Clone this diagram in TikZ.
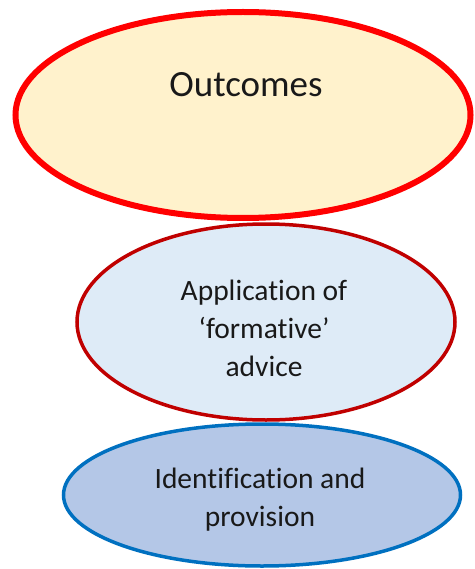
\documentclass[tikz,border=0pt]{standalone}
\usepackage{fontspec}
\setmainfont[Ligatures={NoCommon}]{Carlito}
\usepackage{tikz}
\usetikzlibrary{shapes.geometric, positioning, calc}
\usepackage{xcolor}
\definecolor{outred}{HTML}{FF0000}
\definecolor{outfill}{HTML}{FFF2CC}
\definecolor{darkred}{HTML}{C00000}
\definecolor{paleblue}{HTML}{DEEBF7}
\definecolor{midblue}{HTML}{0070C0}
\definecolor{softblue}{HTML}{B4C7E7}

\tikzset{
    oval/.style={ellipse, draw, inner sep=0pt},
    ovaltext/.style={align=center, text=black!90, font=\fontsize{29.5}{38}\selectfont}
}

\begin{document}
\begin{tikzpicture}[x=1pt, y=-1pt]
                \useasboundingbox (0,0) rectangle (474,569);
                % Identification and provision
                \node[oval, fill=softblue, draw=midblue, line width=3.5pt, minimum width=397pt, minimum height=142pt] (provision) at (262,495) {};
                \node[ovaltext, anchor=center] (provisiontext) at ($(provision.center)+(-2,5)$) {Identification and\\provision};
                
                % Application of advice
                \node[oval, fill=paleblue, draw=darkred, line width=3.5pt, minimum width=378pt, minimum height=196pt] (advice) at (266,322) {};
                \node[ovaltext, anchor=center] (advicetext) at ($(advice.center)+(-2,6)$) {Application of\\‘formative’\\advice};
                
                % Outcomes
                \node[oval, fill=outfill, draw=outred, line width=6pt, minimum width=455pt, minimum height=206pt] (outcomes) at (243,115) {};
                \node[anchor=base, text=black!90, font=\fontsize{37}{44}\selectfont] (outcomestext) at ($(outcomes.center)+(3,-18)$) {Outcomes};
            \end{tikzpicture}
\end{document}
